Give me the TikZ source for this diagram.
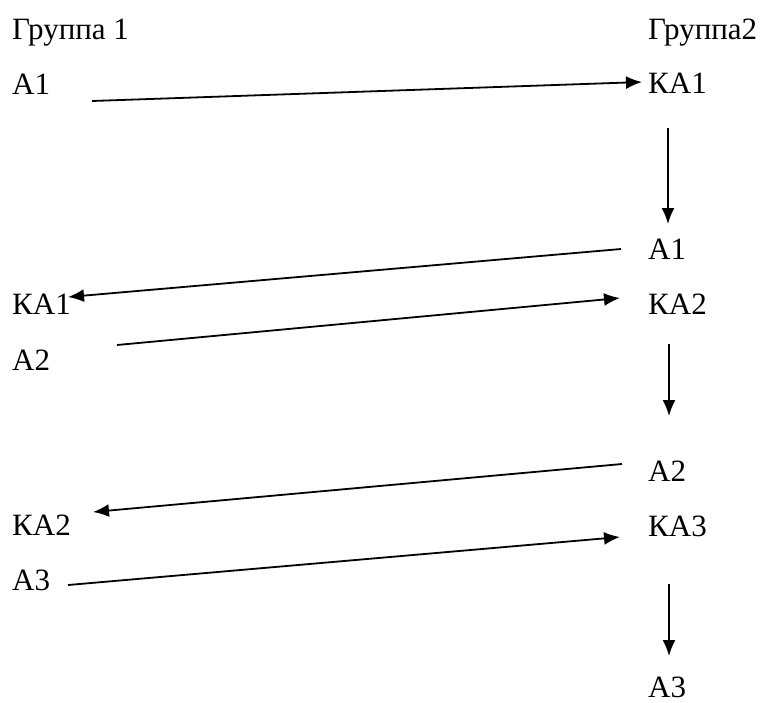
\documentclass[tikz,border=0pt]{standalone}
\usepackage{fontspec}
\setmainfont{Liberation Serif}
\usetikzlibrary{arrows.meta}
\begin{document}
\begin{tikzpicture}[x=1pt,y=-1pt,>={Latex[length=16pt,width=13pt]},
    lbl/.style={anchor=base west,inner sep=0pt,font=\fontsize{31}{36}\selectfont},
    link/.style={->,line width=1.8pt}]
        \useasboundingbox (0,0) rectangle (765,702);
        %group 1
        \node[lbl] (g1) at (12,39) {Группа 1};
        \node[lbl] (a1l) at (12,94) {A1};
        \node[lbl] (ka1l) at (12,314) {КА1};
        \node[lbl] (a2l) at (12,370) {A2};
        \node[lbl] (ka2l) at (12,535) {КА2};
        \node[lbl] (a3l) at (12,590) {A3};
        %group 2
        \node[lbl] (g2) at (648,39) {Группа2};
        \node[lbl] (ka1r) at (648,93) {КА1};
        \node[lbl] (a1r) at (648,259) {A1};
        \node[lbl] (ka2r) at (648,314) {КА2};
        \node[lbl] (a2r) at (648,481) {A2};
        \node[lbl] (ka3r) at (648,536) {КА3};
        \node[lbl] (a3r) at (648,697) {A3};
        %line ends
        \coordinate (a1l-out) at (92,101);
        \coordinate (ka1r-in) at (642,82);
        \coordinate (a1r-out) at (621,249);
        \coordinate (ka1l-in) at (68,297);
        \coordinate (a2l-out) at (117,345);
        \coordinate (ka2r-in) at (620,298);
        \coordinate (a2r-out) at (622,464);
        \coordinate (ka2l-in) at (93,512);
        \coordinate (a3l-out) at (68,585);
        \coordinate (ka3r-in) at (620,537);
        %between groups
        \draw[link] (a1l-out) -- (ka1r-in);
        \draw[link] (a1r-out) -- (ka1l-in);
        \draw[link] (a2l-out) -- (ka2r-in);
        \draw[link] (a2r-out) -- (ka2l-in);
        \draw[link] (a3l-out) -- (ka3r-in);
        %inside group 2
        \draw[link] ([shift={(20,35)}]ka1r.base west) -- ([shift={(20,-35)}]a1r.base west);
        \draw[link] ([shift={(21,30)}]ka2r.base west) -- ([shift={(21,-65)}]a2r.base west);
        \draw[link] ([shift={(21,48)}]ka3r.base west) -- ([shift={(21,-41)}]a3r.base west);
\end{tikzpicture}
\end{document}
